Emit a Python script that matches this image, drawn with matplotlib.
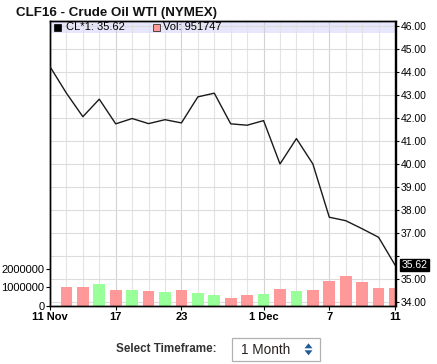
import numpy as np
import matplotlib
matplotlib.use("Agg")
import matplotlib.pyplot as plt
from matplotlib.patches import Rectangle, Polygon
from matplotlib.transforms import blended_transform_factory

# ---- data ----
dates = ['11 Nov', '12', '13', '16', '17', '18', '19', '20', '23', '24', '25',
         '27', '30', '1 Dec', '2', '3', '4', '7', '8', '9', '10', '11']
prices = [44.22, 43.07, 42.05, 42.81, 41.74, 41.97, 41.75, 41.92, 41.78, 42.91,
          43.07, 41.74, 41.68, 41.88, 40.00, 41.10, 40.00, 37.69, 37.54, 37.19,
          36.82, 35.62]
volumes = [np.nan, 1040000, 1040000, 1200000, 870000, 870000, 820000, 760000,
           870000, 710000, 600000, 440000, 600000, 650000, 930000, 820000,
           870000, 1360000, 1640000, 1310000, 980000, 951747]
tick_idx = [0, 4, 8, 13, 17, 21]
tick_labels = ['11 Nov', '17', '23', '1 Dec', '7', '11']
price_ticks = [34, 35, 36, 37, 38, 39, 40, 41, 42, 43, 44, 45, 46]
vol_ticks = [0, 1000000, 2000000]

W, H = 437, 364
plt.rcParams['font.family'] = ['Liberation Sans', 'DejaVu Sans']
fig = plt.figure(figsize=(W / 100, H / 100), dpi=100)
fig.patch.set_facecolor('white')

def fx(px):
    return px / W

def fy(py):
    return 1 - py / H

L, R, T, B = 50, 395.5, 21, 306
ax_v = fig.add_axes([fx(L), fy(B), fx(R) - fx(L), fy(T) - fy(B)])
ax_p = ax_v.twinx()

x = np.arange(len(dates))
ax_v.set_xlim(0, 21.03)
ax_v.set_ylim(0, 15.4e6)
ax_p.set_ylim(33.84, 46.20)

# lavender legend strip
ax_v.add_patch(Rectangle((0, 1 - 11.7 / (B - T)), 1, 11.7 / (B - T),
                         transform=ax_v.transAxes, facecolor='#e6e6fc',
                         edgecolor='none', zorder=0.5))

# vertical grid
for i in x[1:-1]:
    c = '#cfcfcf' if i in tick_idx else '#e2e2e2'
    ax_v.axvline(i, color=c, lw=0.8, zorder=1, alpha=0.9)
# horizontal grid on price scale, drawn below bars
tr = blended_transform_factory(ax_v.transAxes, ax_p.transData)
ax_v.hlines(price_ticks, 0, 1, transform=tr, colors='#dcdcdc', lw=0.8, zorder=1)

# volume bars
prev = [np.nan] + prices[:-1]
colors = ['#ff9999' if p < q else '#99ff99' for p, q in zip(prices, prev)]
ax_v.bar(x, volumes, width=0.71, color=colors, zorder=2)

# price line
ax_p.plot(x, prices, color='#1a1a1a', lw=1.0, zorder=3)

# axes styling
for a in (ax_v, ax_p):
    a.patch.set_visible(False)
    for s in a.spines.values():
        s.set_color('black')
        s.set_linewidth(1.0)
ax_v.set_zorder(1)
ax_p.set_zorder(2)

ax_v.set_xticks(tick_idx)
ax_v.set_xticklabels(tick_labels, fontsize=8, fontweight='bold')
ax_v.tick_params(axis='x', length=3, width=0.8, pad=1)
ax_v.set_yticks(vol_ticks)
ax_v.set_yticklabels([str(v) for v in vol_ticks], fontsize=8)
ax_v.tick_params(axis='y', length=3, width=0.8, pad=1)

ax_p.set_yticks(price_ticks)
ax_p.set_yticklabels(['' if t == 36 else f'{t:.2f}' for t in price_ticks], fontsize=7.5)
ax_p.tick_params(axis='y', length=3, width=0.8, pad=1)

# last price label
ax_p.annotate(f'{prices[-1]:.2f}', xy=(1.0, prices[-1]),
              xycoords=('axes fraction', 'data'), xytext=(4.2, 0),
              textcoords='offset points', va='center', ha='left', fontsize=7.5,
              color='white', zorder=5, annotation_clip=False,
              bbox=dict(boxstyle='square,pad=0.12', fc='black', ec='black'))

# title
fig.text(fx(16), fy(13), 'CLF16 - Crude Oil WTI (NYMEX)', fontsize=9.6,
         fontweight='bold', va='center', ha='left', color='#111111')

# legend in strip
fig.patches.append(Rectangle((fx(54), fy(30.5)), fx(6.5), 6.5 / H, transform=fig.transFigure,
                             facecolor='black', edgecolor='black', lw=0.5))
fig.text(fx(66), fy(27), f'CL*1: {prices[-1]:.2f}', fontsize=8, va='center', ha='left')
fig.patches.append(Rectangle((fx(153), fy(30.5)), fx(6.5), 6.5 / H, transform=fig.transFigure,
                             facecolor='#ff9999', edgecolor='#333333', lw=0.6))
fig.text(fx(163), fy(27), f'Vol: {volumes[-1]}', fontsize=8, va='center', ha='left')

# timeframe selector
fig.text(fx(116), fy(349.5), 'Select Timeframe:', fontsize=8.4, fontweight='bold',
         color='#333333', va='center', ha='left')
fig.patches.append(Rectangle((fx(231.7), fy(360.5)), fx(320) - fx(231.7), 23 / H,
                             transform=fig.transFigure, facecolor='white',
                             edgecolor='#b0b0b0', lw=0.9))
fig.text(fx(241), fy(349.5), '1 Month', fontsize=9.8, color='#2a2222',
         va='center', ha='left')
fig.patches.append(Polygon([(fx(304.5), fy(348.3)), (fx(312.5), fy(348.3)), (fx(308.5), fy(343.3))],
                           closed=True, transform=fig.transFigure, facecolor='#1f5c99',
                           edgecolor='none'))
fig.patches.append(Polygon([(fx(304.5), fy(350.3)), (fx(312.5), fy(350.3)), (fx(308.5), fy(355.3))],
                           closed=True, transform=fig.transFigure, facecolor='#1f5c99',
                           edgecolor='none'))

fig.savefig('out.png', dpi=100)
